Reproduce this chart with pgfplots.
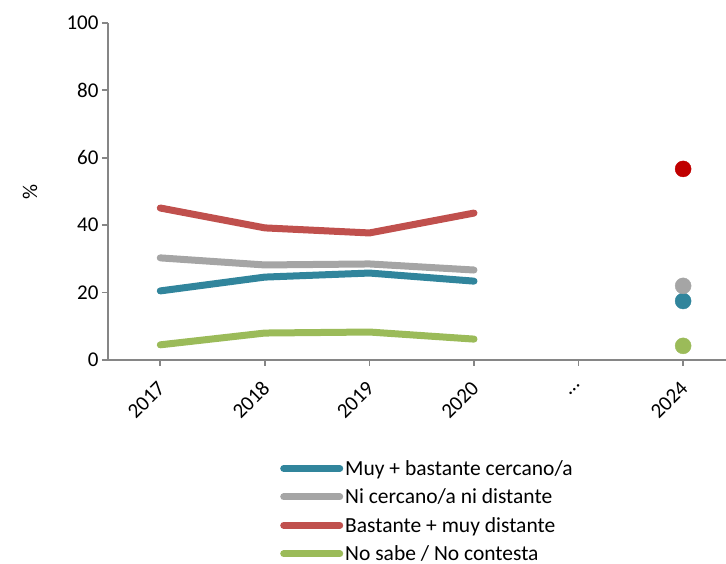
\documentclass[border=0pt]{standalone}
\usepackage{fontspec}
\setmainfont{Carlito}
\usepackage{pgfplots}
\pgfplotsset{compat=1.18}
\definecolor{cBlue}{HTML}{31859C}
\definecolor{cGray}{HTML}{A5A5A5}
\definecolor{cRed}{HTML}{C0504D}
\definecolor{cRedDot}{HTML}{C00000}
\definecolor{cGreen}{HTML}{9BBB59}
\definecolor{axisgray}{HTML}{868686}

\begin{document}
\begin{tikzpicture}
\useasboundingbox (-108pt,-204pt) rectangle (618pt,360pt);
\begin{axis}[
    at={(0,0)}, anchor=south west,
    scale only axis,
    width=618pt, height=337pt,
    xmin=-0.5, xmax=5.41,
    ymin=0, ymax=100,
    xtick={0,1,2,3,4,5},
    xticklabels={2017,2018,2019,2020,…,2024},
    ytick={0,20,40,60,80,100},
    axis lines*=left,
    axis line style={axisgray, line width=1.8pt},
    tick style={axisgray, line width=1.8pt},
    tick align=outside,
    major tick length=6pt,
    /pgf/number format/assume math mode=true,
    tick label style={font=\fontsize{21}{25}\selectfont, black},
    x tick label style={rotate=45, anchor=east, xshift=-9pt, yshift=-14pt},
    ylabel={\%},
    ylabel style={at={(axis description cs:-0.126,0.5)}, anchor=center, font=\fontsize{21}{25}\selectfont},
    clip=false,
    legend style={at={(axis description cs:0.2735,-0.285)}, anchor=north west,
        draw=none, fill=none, font=\fontsize{21.5}{26}\selectfont,
        row sep=8pt, legend cell align=left,
        /tikz/every even column/.append style={column sep=0pt}},
    legend image code/.code={\draw[#1, line width=7pt, line cap=round] (0pt,0pt) -- (56pt,0pt);},
    every axis plot/.append style={line width=7pt, line cap=round, line join=round},
]

\addplot[cBlue, mark=none] coordinates {(0,20.5) (1,24.6) (2,25.8) (3,23.4)};
\addplot[cGray, mark=none] coordinates {(0,30.3) (1,28.2) (2,28.5) (3,26.7)};
\addplot[cRed, mark=none] coordinates {(0,45.1) (1,39.2) (2,37.7) (3,43.6)};
\addplot[cGreen, mark=none] coordinates {(0,4.5) (1,8.0) (2,8.3) (3,6.2)};

% 2024 values
\addplot[forget plot, only marks, mark=*, mark size=8pt, line width=0.4pt, cBlue] coordinates {(5,17.5)};
\addplot[forget plot, only marks, mark=*, mark size=8pt, line width=0.4pt, cGray] coordinates {(5,22.0)};
\addplot[forget plot, only marks, mark=*, mark size=8pt, line width=0.4pt, cRedDot] coordinates {(5,56.7)};
\addplot[forget plot, only marks, mark=*, mark size=8pt, line width=0.4pt, cGreen] coordinates {(5,4.2)};

\legend{Muy + bastante cercano/a, Ni cercano/a ni distante, Bastante + muy distante, No sabe / No contesta}
\end{axis}
\end{tikzpicture}
\end{document}
